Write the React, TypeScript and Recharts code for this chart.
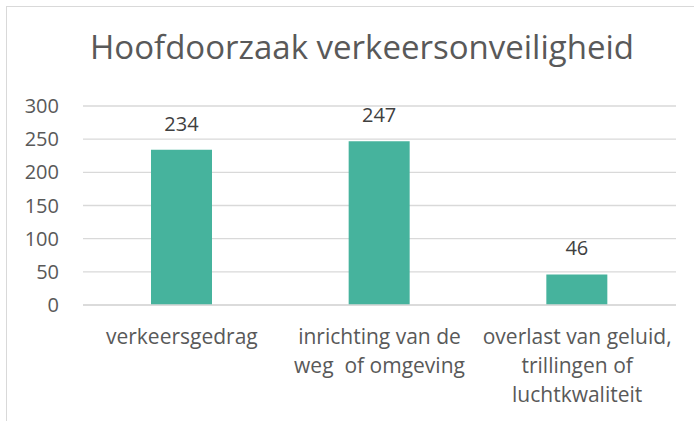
import React from 'react';
import { BarChart, Bar, XAxis, YAxis, CartesianGrid, LabelList } from 'recharts';

const categories = ['verkeersgedrag', 'inrichting van de\nweg  of omgeving', 'overlast van geluid,\ntrillingen of\nluchtkwaliteit'];
const counts = [234, 247, 46];
const yTicks = [0, 50, 100, 150, 200, 250, 300];

const data = categories.map((name, i) => ({ name, value: counts[i] }));

const FONT = '"Open Sans", sans-serif';
const TEXT = '#595959';

const CategoryTick = ({ x, y, payload }: any) => {
  const lines = String(payload.value).split('\n');
  return (
    <text x={x} y={y} textAnchor="middle" fill={TEXT} fontSize={21} fontFamily={FONT} style={{ whiteSpace: 'pre' }}>
      {lines.map((line, i) => (
        <tspan key={i} x={x} dy={i === 0 ? 31 : 29}>{line}</tspan>
      ))}
    </text>
  );
};

const App: React.FC = () => {
  return (
    <div style={{ position: 'fixed', left: 0, top: 0, width: 694, height: 421, background: '#fff', overflow: 'hidden' }}>
      <div style={{ position: 'absolute', left: 6, top: 6, right: 0, bottom: 0, borderLeft: '1px solid #d9d9d9', borderTop: '1px solid #d9d9d9' }} />
      <div style={{ position: 'absolute', left: 0, top: 26, width: 724, textAlign: 'center', fontFamily: FONT, fontSize: 33, color: TEXT, lineHeight: '42px' }}>
        Hoofdoorzaak verkeersonveiligheid
      </div>
      <div style={{ position: 'absolute', left: 0, top: 0 }}>
        <BarChart width={694} height={421} data={data} margin={{ top: 106, right: 18, left: 0, bottom: 0 }}>
          <CartesianGrid vertical={false} stroke="#d9d9d9" strokeWidth={1.3} />
          <XAxis dataKey="name" height={116} interval={0} tickLine={false} stroke="#d9d9d9" strokeWidth={1.3} tick={<CategoryTick />} />
          <YAxis
            width={83}
            domain={[0, 300]}
            ticks={yTicks}
            axisLine={false}
            tickLine={false}
            tickMargin={18}
            tick={{ fill: TEXT, fontSize: 20, fontFamily: FONT }}
          />
          <Bar dataKey="value" fill="#46B39D" barSize={61} isAnimationActive={false}>
            <LabelList dataKey="value" position="top" offset={19} fill="#404040" fontSize={20} fontFamily={FONT} />
          </Bar>
        </BarChart>
      </div>
    </div>
  );
};

export default App;
